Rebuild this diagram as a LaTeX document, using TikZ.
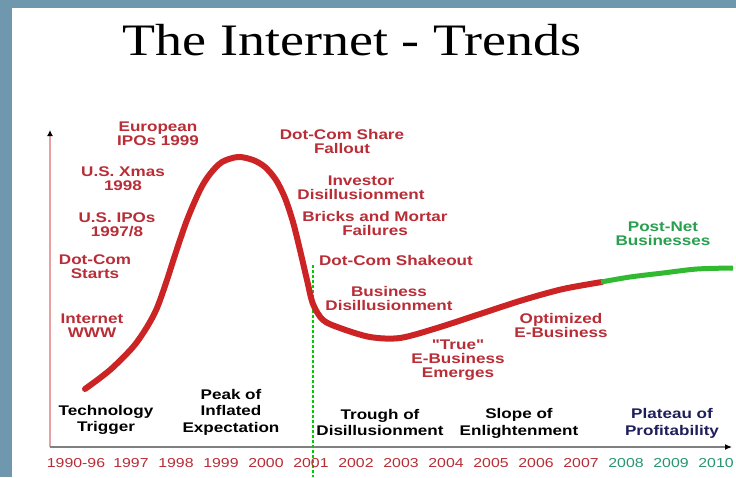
\documentclass[tikz,border=0pt]{standalone}
\usepackage{fontspec}
\setmainfont[FakeStretch=1.2]{Liberation Serif}
\newfontfamily\lblfont[FakeStretch=1.22]{Liberation Sans}
\usetikzlibrary{arrows.meta}
\definecolor{frameblue}{RGB}{111,151,174}
\definecolor{eventred}{RGB}{185,45,55}
\definecolor{curvered}{RGB}{204,36,36}
\definecolor{curvegreen}{RGB}{50,185,50}
\definecolor{netgreen}{RGB}{40,160,80}
\definecolor{yeargreen}{RGB}{40,150,110}
\definecolor{plateaublue}{RGB}{30,30,90}
\definecolor{axispink}{RGB}{232,160,160}

\begin{document}
\begin{tikzpicture}
  [x=1pt, y=-1pt,
  event/.style={font=\lblfont\bfseries\fontsize{14}{14}\selectfont,text=eventred,align=center,inner sep=0pt},
  phase/.style={font=\lblfont\bfseries\fontsize{14}{16.5}\selectfont,align=center,inner sep=0pt},
  year/.style={font=\lblfont\fontsize{13}{13}\selectfont,text=eventred,inner sep=0pt}]
  \useasboundingbox (0,0) rectangle (736,477);
  \fill[frameblue] (0,0) rectangle (736,477);
  \fill[white] (12,8) rectangle (736,477);

  \node[font=\fontsize{45}{45}\selectfont,anchor=base] (title) at (352,55) {The Internet - Trends};

  % axes
  \coordinate (origin) at (50,447);
  \coordinate (ytop) at (50,130);
  \coordinate (xend) at (732,447);
  \draw[axispink,line width=1.5pt,-{Latex[black,length=6pt,width=6pt]}] (origin) -- (ytop);
  \draw[gray,line width=1.2pt,-{Latex[black,length=7pt,width=6pt]}] (origin) -- (xend);

  % shakeout marker
  \coordinate (mtop) at (313,265);
  \coordinate (mbot) at (313,477);
  \draw[green!80!black,line width=2.5pt,dash pattern=on 2.5pt off 2.5pt] (mtop) -- (mbot);

  % hype curve
  \draw[curvered,line width=6pt,line cap=round] plot[smooth,tension=0.5] coordinates
    {(85,389) (110,370) (133,347) (147,327) (157,308) (167,280) (175,255) (187,220)
     (200,190) (210,174) (222,162) (238,157) (253,160) (265,167) (276,180) (285,198)
     (293,222) (300,250) (307,280) (313,304) (323,320) (340,328) (370,337) (400,338)
     (437,328) (480,314) (523,300) (563,289) (602,282)};
  \draw[curvegreen,line width=5pt] plot[smooth] coordinates
    {(601,282) (630,277) (663,273) (697,269) (733,268)};

  % events
  \node[event] (euro) at (158,133.5) {European\\IPOs 1999};
  \node[event] (xmas) at (123,179) {U.S. Xmas\\1998};
  \node[event] (usipo) at (117,225) {U.S. IPOs\\1997/8};
  \node[event] (dcstart) at (95,266.5) {Dot-Com\\Starts};
  \node[event] (www) at (92,326) {Internet\\WWW};
  \node[event] (fallout) at (342,141) {Dot-Com Share\\Fallout};
  \node[event] (investor) at (361,188) {Investor\\Disillusionment};
  \node[event] (bricks) at (375,223.5) {Bricks and Mortar\\Failures};
  \node[event] (shakeout) at (396,260) {Dot-Com Shakeout};
  \node[event] (busdis) at (389,298) {Business\\Disillusionment};
  \node[event] (truebiz) at (458,360.5) {"True"\\E-Business\\Emerges};
  \node[event] (optim) at (561,325) {Optimized\\E-Business};
  \node[event,text=netgreen] (postnet) at (663,234) {Post-Net\\Businesses};

  % phases
  \node[phase] (trigger) at (106,420) {Technology\\Trigger};
  \node[phase] (peak) at (231,412) {Peak of\\Inflated\\Expectation};
  \node[phase] (trough) at (380,422.5) {Trough of\\Disillusionment};
  \node[phase] (slope) at (519,423.5) {Slope of\\Enlightenment};
  \node[phase,text=plateaublue] (plateau) at (672,423.5) {Plateau of\\Profitability};

  % years
  \node[year] (y1990) at (76,463) {1990-96};
  \foreach \yr in {1997,...,2007}
    \node[year] (y\yr) at ({131+(\yr-1997)*45},463) {\yr};
  \foreach \yr in {2008,2009,2010}
    \node[year,text=yeargreen] (y\yr) at ({131+(\yr-1997)*45},463) {\yr};
\end{tikzpicture}
\end{document}
